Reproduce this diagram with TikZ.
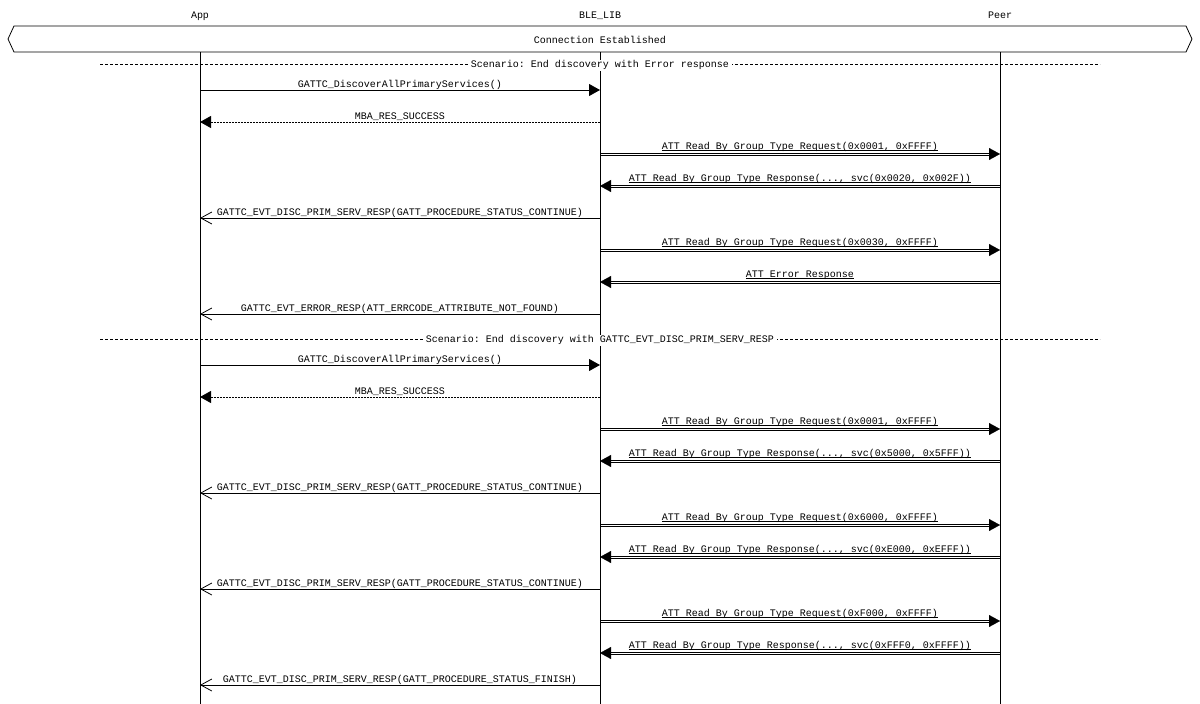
\documentclass[tikz,border=0pt]{standalone}
\usepackage{fontspec}
\setmainfont{Liberation Mono}
\frenchspacing
\newsavebox{\attbox}
\newcommand{\attline}[1]{\sbox{\attbox}{#1}\rlap{\rule[-1.9pt]{\wd\attbox}{0.6pt}}\usebox{\attbox}}
\usetikzlibrary{arrows.meta,calc}
\tikzset{
  head/.style={anchor=base,inner sep=0pt},
  lifeline/.style={line width=0.8pt},
  call/.style={line width=0.8pt,-{Triangle[length=11pt,width=12pt]}},
  reply/.style={line width=0.8pt,dash pattern=on 2pt off 1pt,-{Triangle[length=11pt,width=12pt]}},
  event/.style={line width=0.8pt,-{Straight Barb[length=11pt,width=12pt,line width=0.8pt]}},
  air/.style={draw=white,line width=0.1pt,-{Triangle[length=11pt,width=12pt,color=black]},
    preaction={draw=black,line width=0.8pt,-,shorten >=9pt,transform canvas={yshift=1.1pt}},
    preaction={draw=black,line width=0.8pt,-,shorten >=9pt,transform canvas={yshift=-1.1pt}}},
  msgtext/.style={midway,anchor=base,inner sep=0pt,yshift=2.5pt},
  airtext/.style={midway,anchor=base,inner sep=0pt,yshift=5pt},
  sepline/.style={line width=0.6pt,dash pattern=on 3pt off 2pt},
  septext/.style={anchor=base,fill=white,inner xsep=3pt,inner ysep=1pt,text height=7pt,text depth=2.5pt,yshift=-3.5pt}
}
\begin{document}
\begin{tikzpicture}[x=1pt,y=-1pt]
\useasboundingbox (0,0) rectangle (1200,704);
% instances
\node[head] (app) at (200,18) {App};
\node[head] (ble) at (600,18) {BLE\_LIB};
\node[head] (peer) at (1000,18) {Peer};
\coordinate (top) at (0,52);
\coordinate (bottom) at (0,704);
% connection box
\draw[line width=0.8pt] (8,39) -- (14,26) -- (1186,26) -- (1192,39) -- (1186,52) -- (14,52) -- cycle;
\node[head] (conn) at (600,43) {Connection Established};
% rows
\foreach \i/\y in {1/90,2/122,3/154,4/186,5/218,6/250,7/282,8/314,
                   9/365,10/397,11/429,12/461,13/493,14/525,15/557,16/589,17/621,18/653,19/685}
  \coordinate (r\i) at (0,\y);
% scenario 1
\coordinate (s1a) at (100,64);
\coordinate (s1b) at (1100,64);
\draw[air] (ble |- r3) -- node[airtext] {\attline{ATT Read By Group Type Request(0x0001, 0xFFFF)}} (peer |- r3);
\draw[air] (peer |- r4) -- node[airtext] {\attline{ATT Read By Group Type Response(..., svc(0x0020, 0x002F))}} (ble |- r4);
\draw[air] (ble |- r6) -- node[airtext] {\attline{ATT Read By Group Type Request(0x0030, 0xFFFF)}} (peer |- r6);
\draw[air] (peer |- r7) -- node[airtext] {\attline{ATT Error Response}} (ble |- r7);
\draw[air] (ble |- r11) -- node[airtext] {\attline{ATT Read By Group Type Request(0x0001, 0xFFFF)}} (peer |- r11);
\draw[air] (peer |- r12) -- node[airtext] {\attline{ATT Read By Group Type Response(..., svc(0x5000, 0x5FFF))}} (ble |- r12);
\draw[air] (ble |- r14) -- node[airtext] {\attline{ATT Read By Group Type Request(0x6000, 0xFFFF)}} (peer |- r14);
\draw[air] (peer |- r15) -- node[airtext] {\attline{ATT Read By Group Type Response(..., svc(0xE000, 0xEFFF))}} (ble |- r15);
\draw[air] (ble |- r17) -- node[airtext] {\attline{ATT Read By Group Type Request(0xF000, 0xFFFF)}} (peer |- r17);
\draw[air] (peer |- r18) -- node[airtext] {\attline{ATT Read By Group Type Response(..., svc(0xFFF0, 0xFFFF))}} (ble |- r18);
% lifelines
\draw[lifeline] (app |- top) -- (app |- bottom);
\draw[lifeline] (ble |- top) -- (ble |- bottom);
\draw[lifeline] (peer |- top) -- (peer |- bottom);
% scenario 1
\draw[sepline] (s1a) -- (s1b);
\node[septext] (sc1) at ($(s1a)!0.5!(s1b)$) {Scenario: End discovery with Error response};
\draw[call] (app |- r1) -- node[msgtext] {GATTC\_DiscoverAllPrimaryServices()} (ble |- r1);
\draw[reply] (ble |- r2) -- node[msgtext] {MBA\_RES\_SUCCESS} (app |- r2);
\draw[event] (ble |- r5) -- node[msgtext] {GATTC\_EVT\_DISC\_PRIM\_SERV\_RESP(GATT\_PROCEDURE\_STATUS\_CONTINUE)} (app |- r5);
\draw[event] (ble |- r8) -- node[msgtext] {GATTC\_EVT\_ERROR\_RESP(ATT\_ERRCODE\_ATTRIBUTE\_NOT\_FOUND)} (app |- r8);
% scenario 2
\coordinate (s2a) at (100,339);
\coordinate (s2b) at (1100,339);
\draw[sepline] (s2a) -- (s2b);
\node[septext] (sc2) at ($(s2a)!0.5!(s2b)$) {Scenario: End discovery with GATTC\_EVT\_DISC\_PRIM\_SERV\_RESP};
\draw[call] (app |- r9) -- node[msgtext] {GATTC\_DiscoverAllPrimaryServices()} (ble |- r9);
\draw[reply] (ble |- r10) -- node[msgtext] {MBA\_RES\_SUCCESS} (app |- r10);
\draw[event] (ble |- r13) -- node[msgtext] {GATTC\_EVT\_DISC\_PRIM\_SERV\_RESP(GATT\_PROCEDURE\_STATUS\_CONTINUE)} (app |- r13);
\draw[event] (ble |- r16) -- node[msgtext] {GATTC\_EVT\_DISC\_PRIM\_SERV\_RESP(GATT\_PROCEDURE\_STATUS\_CONTINUE)} (app |- r16);
\draw[event] (ble |- r19) -- node[msgtext] {GATTC\_EVT\_DISC\_PRIM\_SERV\_RESP(GATT\_PROCEDURE\_STATUS\_FINISH)} (app |- r19);
\end{tikzpicture}
\end{document}
